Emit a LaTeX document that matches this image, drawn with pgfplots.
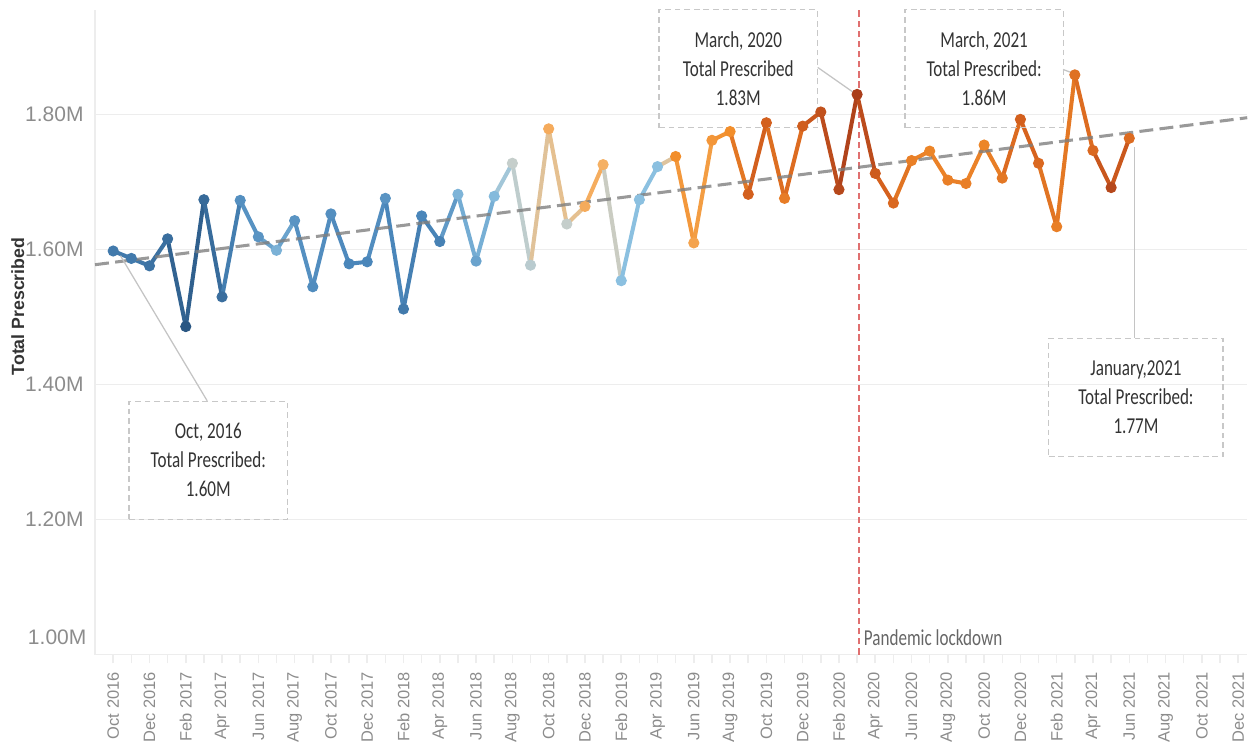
\documentclass[border=0pt]{standalone}
\usepackage{pgfplots}
\pgfplotsset{compat=1.18}
\usepackage{pgfplotstable}
\usepackage{fontspec}
\setmainfont{Liberation Sans}
\newfontfamily\annfont[FakeStretch=0.75]{Carlito}
\definecolor{ticktxt}{HTML}{8C8C8C}
\definecolor{gridc}{HTML}{EDEDED}
\definecolor{anntxt}{HTML}{333333}
\definecolor{boxc}{HTML}{C8C8C8}
\definecolor{leadc}{HTML}{C4C4C4}
\definecolor{trendc}{HTML}{7F7F7F}
\definecolor{lockc}{HTML}{E07070}

% month index (0 = Oct 2016), total prescribed (millions), colour value
\pgfplotstableread{
i v c
0 1.598 1.5
1 1.587 1.5
2 1.576 1.2
3 1.616 1.0
4 1.486 0.0
5 1.674 0.8
6 1.530 1.0
7 1.673 2.3
8 1.619 2.5
9 1.599 3.5
10 1.643 2.5
11 1.545 2.2
12 1.653 2.3
13 1.579 2.0
14 1.582 2.0
15 1.676 2.5
16 1.512 1.5
17 1.650 2.0
18 1.612 1.8
19 1.682 3.6
20 1.583 3.0
21 1.679 3.8
22 1.728 5.0
23 1.577 4.8
24 1.779 6.3
25 1.638 5.0
26 1.664 6.3
27 1.726 6.2
28 1.554 4.0
29 1.674 4.0
30 1.723 4.0
31 1.738 7.0
32 1.610 6.5
33 1.762 6.8
34 1.775 7.0
35 1.682 8.6
36 1.788 8.6
37 1.676 7.6
38 1.783 8.7
39 1.804 9.2
40 1.689 9.6
41 1.830 10
42 1.713 8.8
43 1.669 8.3
44 1.732 7.5
45 1.746 7.3
46 1.703 7.5
47 1.698 7.5
48 1.755 7.3
49 1.706 7.8
50 1.793 8.6
51 1.728 8.3
52 1.634 7.5
53 1.859 8.0
54 1.747 8.3
55 1.692 9.6
56 1.765 8.2
}\data

\begin{document}
\begin{tikzpicture}
\begin{axis}[
  scale only axis,
  width=16.0cm, height=8.95cm,
  xmin=-1, xmax=62.5, ymin=1.0, ymax=1.955,
  axis x line*=bottom, axis y line*=left,
  axis line style={gridc, line width=0.6pt},
  xtick={0,...,62},
  xticklabels={Oct 2016,,Dec 2016,,Feb 2017,,Apr 2017,,Jun 2017,,Aug 2017,,Oct 2017,,Dec 2017,,Feb 2018,,Apr 2018,,Jun 2018,,Aug 2018,,Oct 2018,,Dec 2018,,Feb 2019,,Apr 2019,,Jun 2019,,Aug 2019,,Oct 2019,,Dec 2019,,Feb 2020,,Apr 2020,,Jun 2020,,Aug 2020,,Oct 2020,,Dec 2020,,Feb 2021,,Apr 2021,,Jun 2021,,Aug 2021,,Oct 2021,,Dec 2021},
  x tick label style={rotate=90, anchor=east, font=\fontsize{6.5}{7}\selectfont, text=ticktxt},
  xtick style={gridc, line width=0.6pt},
  tick align=outside, major tick length=3.5pt,
  ytick={1.0,1.2,1.4,1.6,1.8},
  yticklabels={,1.20M,1.40M,1.60M,1.80M},
  y tick label style={font=\fontsize{8.3}{10}\selectfont, text=ticktxt, xshift=2.5pt},
  ytick style={draw=none},
  ymajorgrids, grid style={gridc, line width=0.6pt},
  ylabel={\textbf{Total Prescribed}},
  ylabel style={at={(axis description cs:-0.067,0.54)}, anchor=center, font=\fontsize{7}{8}\selectfont, text=anntxt},
  colormap={tabdiv}{rgb255(0cm)=(42,87,131); rgb255(2cm)=(74,134,186); rgb255(4cm)=(139,192,224); rgb255(5cm)=(197,206,203); rgb255(6cm)=(246,184,113); rgb255(7cm)=(242,142,43); rgb255(8.5cm)=(214,98,30); rgb255(10cm)=(170,62,26)},
  point meta min=0, point meta max=10,
  clip=false,
]
  % bottom tick label sits raised, as in the source
  \node[anchor=east, inner sep=0pt, font=\fontsize{8.3}{10}\selectfont, text=ticktxt] at (axis cs:-1.45,1.026) {1.00M};

  % lockdown marker
  \addplot[lockc, line width=0.6pt, dash pattern=on 2.5pt off 1.5pt] coordinates {(41.1,1.0) (41.1,1.955)};
  \node[anchor=south west, inner sep=0pt, font=\annfont\fontsize{9}{10}\selectfont, text=black!60] at (axis cs:41.35,1.012) {Pandemic lockdown};

  % series
  \addplot[mesh, point meta=explicit, line width=1.6pt, line cap=round, line join=round] table[x=i, y=v, meta=c] {\data};
  \addplot[scatter, only marks, mark=*, mark size=2pt, point meta=explicit,
    scatter/use mapped color={draw=mapped color, fill=mapped color}] table[x=i, y=v, meta=c] {\data};

  % trend line
  \addplot[trendc, opacity=0.8, line width=1.2pt, dash pattern=on 5.5pt off 2.5pt] coordinates {(-1,1.5777) (62.5,1.7955)};

  % leader lines
  \draw[leadc, line width=0.5pt] (axis cs:0.4,1.591) -- (axis cs:5.18,1.376);
  \draw[leadc, line width=0.5pt] (axis cs:38.83,1.870) -- (axis cs:40.85,1.832);
  \draw[leadc, line width=0.5pt] (axis cs:52.35,1.867) -- (axis cs:52.85,1.862);
  \draw[leadc, line width=0.5pt] (axis cs:56.3,1.752) -- (axis cs:56.3,1.469);

  % annotation boxes
  \tikzset{ann/.style={draw=boxc, line width=0.5pt, dash pattern=on 2.3pt off 1.5pt, fill=none,
      align=center, text=anntxt, font=\annfont\fontsize{9}{11.4}\selectfont,
      minimum width=2.2cm, minimum height=1.64cm, inner sep=0pt}}
  \node[ann] at (axis cs:34.45,1.868) {March, 2020\\Total Prescribed\\1.83M};
  \node[ann] at (axis cs:48.0,1.868) {March, 2021\\Total Prescribed:\\1.86M};
  \node[ann] at (axis cs:5.24,1.288) {Oct, 2016\\Total Prescribed:\\1.60M};
  \node[ann, minimum width=2.42cm] at (axis cs:56.37,1.381) {January,2021\\Total Prescribed:\\1.77M};
\end{axis}
\path ([shift={(-1.32cm,-1.24cm)}]current axis.south west) rectangle ([shift={(0.15cm,0.14cm)}]current axis.north east);
\end{tikzpicture}
\end{document}
